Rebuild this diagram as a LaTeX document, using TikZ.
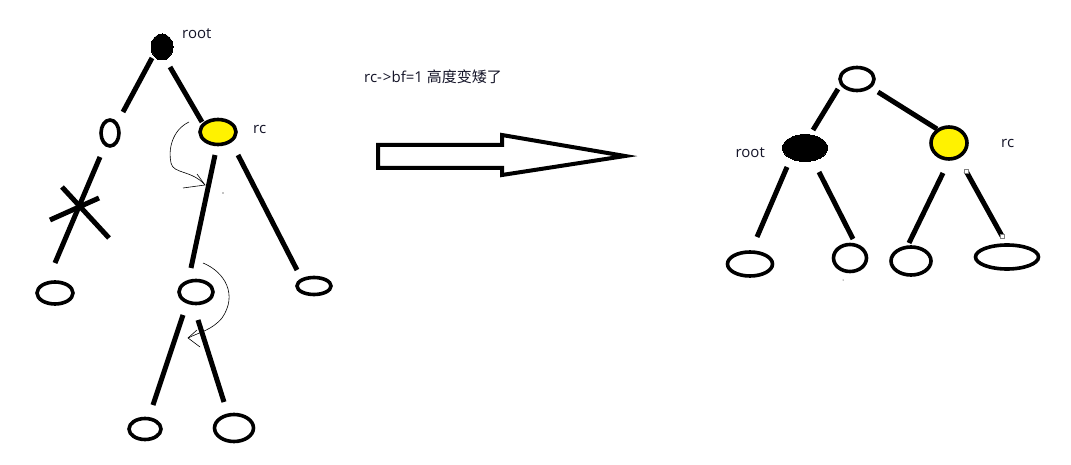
\documentclass[tikz,border=0pt]{standalone}
\usepackage{fontspec}
\setmainfont{Open Sans}
\newfontfamily\cjk{Noto Sans CJK SC}
\usetikzlibrary{shapes.geometric}
\definecolor{pyellow}{RGB}{255,242,0}
\definecolor{txtc}{RGB}{20,20,40}
\tikzset{
  tnode/.style={ellipse, draw=black, line width=3.6pt, fill=white, inner sep=0pt},
  blacknode/.style={ellipse, draw=black, fill=black, line width=0pt, inner sep=0pt},
  ynode/.style={ellipse, draw=black, line width=3.6pt, fill=pyellow, inner sep=0pt},
  edge/.style={line width=5pt},
  thin/.style={line width=0.6pt},
  lab/.style={font=\fontsize{15}{17}\selectfont, text=txtc, inner sep=0pt}
}
\begin{document}
\begin{tikzpicture}[x=1pt,y=-1pt]
\useasboundingbox (0,0) rectangle (1071,465);
% ---------- left tree ----------
\node[blacknode, minimum width=22pt, minimum height=26pt] (r) at (162,47) {};
\node[lab, anchor=west] (rlab) at (182,34) {root};
\node[tnode, minimum width=18pt, minimum height=26pt] (l) at (110,133) {};
\node[ynode, minimum width=36pt, minimum height=25pt] (rc) at (218,132) {};
\node[lab, anchor=west] (rclab) at (253,129) {rc};
\node[tnode, minimum width=36pt, minimum height=22pt] (ll) at (55,293) {};
\node[tnode, minimum width=34pt, minimum height=23pt] (m) at (196,292) {};
\node[tnode, minimum width=34pt, minimum height=17pt] (rr) at (314,286) {};
\node[tnode, minimum width=32pt, minimum height=21pt] (ml) at (145,429) {};
\node[tnode, minimum width=39pt, minimum height=27pt] (mr) at (234,428) {};
% edges
\coordinate (a1) at (152,58);  \coordinate (a2) at (123,112);
\coordinate (b1) at (170,67);  \coordinate (b2) at (202,122);
\coordinate (c1) at (100,157); \coordinate (c2) at (55,263);
\coordinate (d1) at (215,155); \coordinate (d2) at (191,268);
\coordinate (e1) at (238,155); \coordinate (e2) at (297,270);
\coordinate (f1) at (183,315); \coordinate (f2) at (153,405);
\coordinate (g1) at (198,320); \coordinate (g2) at (224,402);
\draw[edge] (a1) -- (a2);
\draw[edge] (b1) -- (b2);
\draw[edge] (c1) -- (c2);
\draw[edge] (d1) -- (d2);
\draw[edge] (e1) -- (e2);
\draw[edge] (f1) -- (f2);
\draw[edge] (g1) -- (g2);
% cross
\coordinate (x1) at (50,220); \coordinate (x2) at (99,198);
\coordinate (x3) at (62,187); \coordinate (x4) at (109,238);
\draw[edge] (x1) -- (x2);
\draw[edge] (x3) -- (x4);
% thin rotation arrows
\coordinate (p1) at (189,122); \coordinate (p2) at (171,163); \coordinate (p3) at (205,185);
\coordinate (p4) at (197,174); \coordinate (p5) at (183,188);
\draw[thin] (p1) .. controls (172,130) and (168,150) .. (p2) .. controls (173,174) and (192,170) .. (p3);
\draw[thin] (p4) -- (p3) -- (p5);
\fill (223,193) circle (0.7pt);
\coordinate (q1) at (203,263); \coordinate (q2) at (222,318); \coordinate (q3) at (188,338);
\coordinate (q4) at (197,330); \coordinate (q5) at (200,347);
\draw[thin] (q1) .. controls (225,272) and (238,295) .. (q2) .. controls (212,330) and (200,332) .. (q3);
\draw[thin] (q4) -- (q3) -- (q5);
% ---------- middle ----------
\node[lab, anchor=west] (txt) at (364,77) {rc-\kern1pt>bf=1 {\cjk 高度变矮了}};
\draw[line width=4pt, line join=miter] (378,145) -- (502,145) -- (502,135) -- (625,156) -- (502,175) -- (502,168) -- (378,168) -- cycle;
% ---------- right tree ----------
\node[tnode, minimum width=34pt, minimum height=23pt] (t) at (857,79) {};
\node[blacknode, minimum width=45pt, minimum height=27pt] (r2) at (805,148) {};
\node[lab, anchor=east] (r2lab) at (765,153) {root};
\node[ynode, minimum width=36pt, minimum height=32pt] (rc2) at (949,143) {};
\node[lab, anchor=west] (rc2lab) at (1001,143) {rc};
\node[tnode, minimum width=45pt, minimum height=24pt] (n1) at (750,264) {};
\node[tnode, minimum width=33pt, minimum height=27pt] (n2) at (850,258) {};
\node[tnode, minimum width=40pt, minimum height=28pt] (n3) at (911,261) {};
\node[tnode, minimum width=63pt, minimum height=24pt] (n4) at (1007,257) {};
\coordinate (h1) at (838,89);  \coordinate (h2) at (813,130);
\coordinate (i1) at (878,92);  \coordinate (i2) at (937,129);
\coordinate (j1) at (787,167); \coordinate (j2) at (757,237);
\coordinate (k1) at (819,172); \coordinate (k2) at (853,239);
\coordinate (m1) at (943,173); \coordinate (m2) at (909,243);
\coordinate (o1) at (966,171); \coordinate (o2) at (1002,236);
\draw[edge] (h1) -- (h2);
\draw[edge] (i1) -- (i2);
\draw[edge] (j1) -- (j2);
\draw[edge] (k1) -- (k2);
\draw[edge] (m1) -- (m2);
\draw[edge] (o1) -- (o2);
\draw[line width=0.6pt, draw=gray, fill=white] (964,169) rectangle (968,173);
\draw[line width=0.6pt, draw=gray, fill=white] (1000,234) rectangle (1004,238);
\fill (843,280) circle (0.5pt);
\end{tikzpicture}
\end{document}
